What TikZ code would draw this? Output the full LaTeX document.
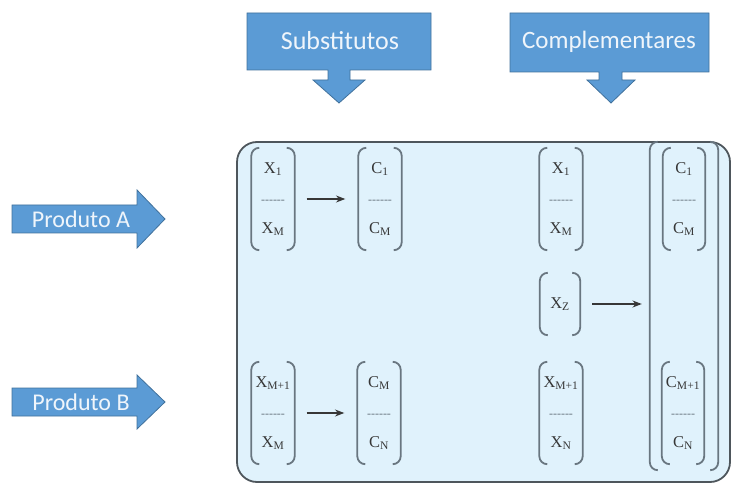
\documentclass[tikz,border=0pt]{standalone}
\usepackage{fontspec}
\setmainfont{Liberation Serif}
\newfontfamily\calibri{Carlito}
\usetikzlibrary{arrows.meta,calc,positioning}
\definecolor{calloutcol}{RGB}{91,155,213}
\definecolor{calloutedge}{RGB}{65,113,156}
\definecolor{panelcol}{RGB}{224,242,252}
\definecolor{paneledge}{RGB}{78,86,92}
\definecolor{brkcol}{RGB}{105,118,128}
\definecolor{entrycol}{RGB}{55,55,55}
\newcommand{\dashrow}{{\fontsize{12}{12}\selectfont\color{brkcol}-{}-{}-{}-{}-{}-}}

\begin{document}
\begin{tikzpicture}[x=1pt,y=-1pt,>=Stealth,
  callout/.style={fill=calloutcol,draw=calloutedge,line width=0.8pt},
  calltext/.style={text=white!90!calloutcol,inner sep=0pt},
  vec/.style={minimum width=43pt,minimum height=102pt,inner sep=0pt,align=center,
              text=entrycol,font=\fontsize{16.5}{30}\selectfont},
  brk/.style={brkcol,line width=1.8pt,rounded corners=8pt},
  conn/.style={->,line width=1.4pt,entrycol,shorten <=12pt,shorten >=13pt}]
  \useasboundingbox (0,0) rectangle (733,494);

  % ---------------- headings ----------------
  \draw[callout] (247,13) -- (431,13) -- (431,70) -- (350,70) -- (350,80) -- (365,80)
     -- (339,103) -- (313,80) -- (328,80) -- (328,70) -- (247,70) -- cycle;
  \node[calltext,font=\calibri\fontsize{26}{26}\selectfont] (subs) at (340,41) {Substitutos};
  \draw[callout] (510,13) -- (709,13) -- (709,72) -- (622,72) -- (622,80) -- (635,80)
     -- (611,103) -- (587,80) -- (599,80) -- (599,72) -- (510,72) -- cycle;
  \node[calltext,font=\calibri\fontsize{25}{25}\selectfont] (comp) at (609,42) {Complementares};

  % ---------------- products ----------------
  \draw[callout] (12,205) -- (137,205) -- (137,190) -- (165,219) -- (137,248)
     -- (137,233) -- (12,233) -- cycle;
  \node[calltext,font=\calibri\fontsize{24}{24}\selectfont] (prodA) at (81,219) {Produto A};
  \draw[callout] (12,388) -- (137,388) -- (137,375) -- (165,402) -- (137,429)
     -- (137,416) -- (12,416) -- cycle;
  \node[calltext,font=\calibri\fontsize{24}{24}\selectfont] (prodB) at (81,402) {Produto B};

  % ---------------- panel ----------------
  \draw[paneledge,fill=panelcol,line width=1.8pt,rounded corners=20pt] (237,142) rectangle (730,482);

  % substitutes
  \node[vec] (xa1) at (273,199) {X\textsubscript{1}\\\dashrow\\X\textsubscript{M}};
  \node[vec] (ca1) at (380,199) {C\textsubscript{1}\\\dashrow\\C\textsubscript{M}};
  \node[vec] (xa2) at (273,413) {X\textsubscript{M+1}\\\dashrow\\X\textsubscript{M}};
  \node[vec] (ca2) at (379,413) {C\textsubscript{M}\\\dashrow\\C\textsubscript{N}};
  % complements
  \node[vec] (xb1) at (561,199) {X\textsubscript{1}\\\dashrow\\X\textsubscript{M}};
  \node[vec,minimum width=40pt,minimum height=62pt] (xz) at (560,304) {X\textsubscript{Z}};
  \node[vec] (xb2) at (561,413) {X\textsubscript{M+1}\\\dashrow\\X\textsubscript{N}};
  \node[vec,minimum width=42pt] (cb1) at (684,199) {C\textsubscript{1}\\\dashrow\\C\textsubscript{M}};
  \node[vec,minimum width=42pt] (cb2) at (683,413) {C\textsubscript{M+1}\\\dashrow\\C\textsubscript{N}};
  \node[vec,minimum width=68pt,minimum height=328pt] (cbig) at (684,306) {};

  \foreach \n in {xa1,ca1,xa2,ca2,xb1,xz,xb2,cb1,cb2,cbig} {
    \draw[brk] ($(\n.north west)+(8,0)$) -- (\n.north west) -- (\n.south west) -- ($(\n.south west)+(8,0)$);
    \draw[brk] ($(\n.north east)+(-8,0)$) -- (\n.north east) -- (\n.south east) -- ($(\n.south east)+(-8,0)$);
  }

  \draw[conn] (xa1) -- (ca1);
  \draw[conn] (xa2) -- (ca2);
  \draw[conn,shorten >=8pt] (xz.east) -- (xz.east -| cbig.west);
\end{tikzpicture}
\end{document}
